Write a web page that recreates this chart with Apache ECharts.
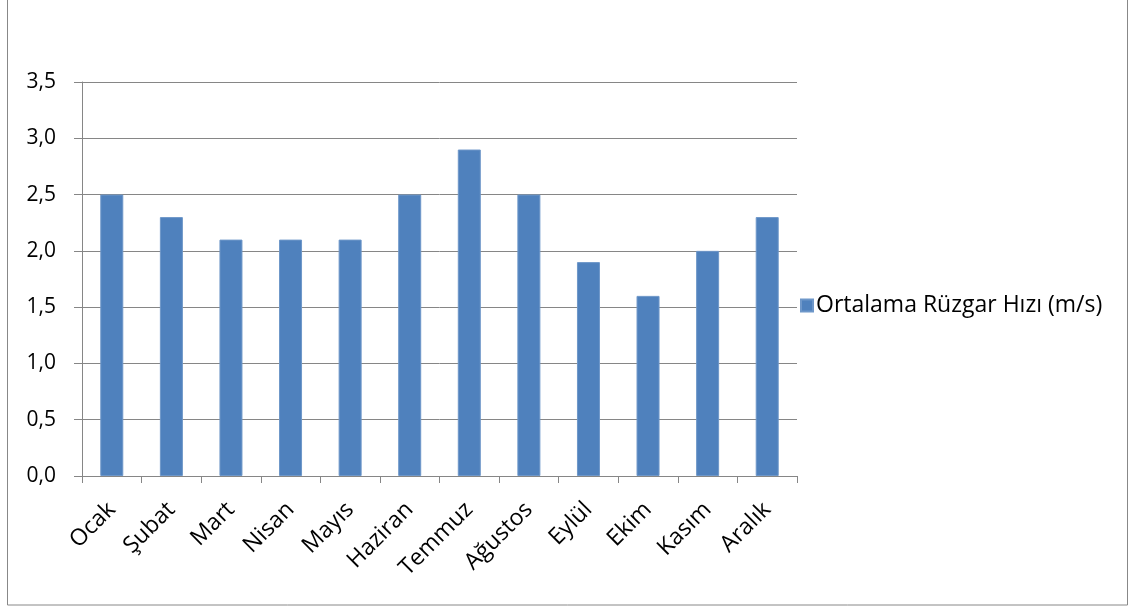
<!DOCTYPE html>
<html>
<head>
<meta charset="utf-8">
<script src="https://cdn.jsdelivr.net/npm/echarts@6/dist/echarts.min.js"></script>
<style>
  html, body { margin: 0; padding: 0; background: #fff; }
  #main { width: 1134px; height: 611px; }
</style>
</head>
<body>
<div id="main"></div>
<script>
const months = ['Ocak', 'Şubat', 'Mart', 'Nisan', 'Mayıs', 'Haziran', 'Temmuz', 'Ağustos', 'Eylül', 'Ekim', 'Kasım', 'Aralık'];
const windSpeed = [2.5, 2.3, 2.1, 2.1, 2.1, 2.5, 2.9, 2.5, 1.9, 1.6, 2.0, 2.3];
const seriesName = 'Ortalama Rüzgar Hızı (m/s)';

let myChart = echarts.init(document.getElementById('main'));

myChart.setOption({
  animation: false,
  textStyle: { fontFamily: 'Open Sans' },
  graphic: [{
    type: 'rect',
    shape: { x: 7.5, y: -2, width: 1120, height: 607 },
    style: { fill: 'none', stroke: '#888', lineWidth: 1 }
  }],
  grid: { left: 82, right: 337, top: 82, bottom: 135 },
  legend: {
    orient: 'vertical',
    left: 795,
    top: 289,
    itemWidth: 12,
    itemHeight: 12,
    itemGap: 4,
    icon: 'rect',
    textStyle: { fontSize: 23, color: '#000', fontFamily: 'Open Sans', padding: [0, 0, 0, -2] },
    data: [seriesName]
  },
  xAxis: {
    type: 'category',
    data: months,
    axisLine: { lineStyle: { color: '#868686' } },
    axisTick: { show: true, length: 7, lineStyle: { color: '#868686' } },
    axisLabel: { rotate: 45, fontSize: 23, color: '#000', margin: 30, interval: 0 }
  },
  yAxis: {
    type: 'value',
    min: 0,
    max: 3.5,
    interval: 0.5,
    axisLine: { show: true, lineStyle: { color: '#868686' } },
    axisTick: { show: true, inside: false, length: 8, lineStyle: { color: '#868686' } },
    splitLine: { lineStyle: { color: '#868686' } },
    axisLabel: {
      fontSize: 21, color: '#000', margin: 26,
      formatter: v => v.toFixed(1).replace('.', ',')
    }
  },
  series: [{
    name: seriesName,
    type: 'bar',
    data: windSpeed,
    barWidth: 23,
    itemStyle: { color: '#4F81BD', borderColor: '#6E97C9', borderWidth: 1 }
  }]
});
</script>
</body>
</html>
